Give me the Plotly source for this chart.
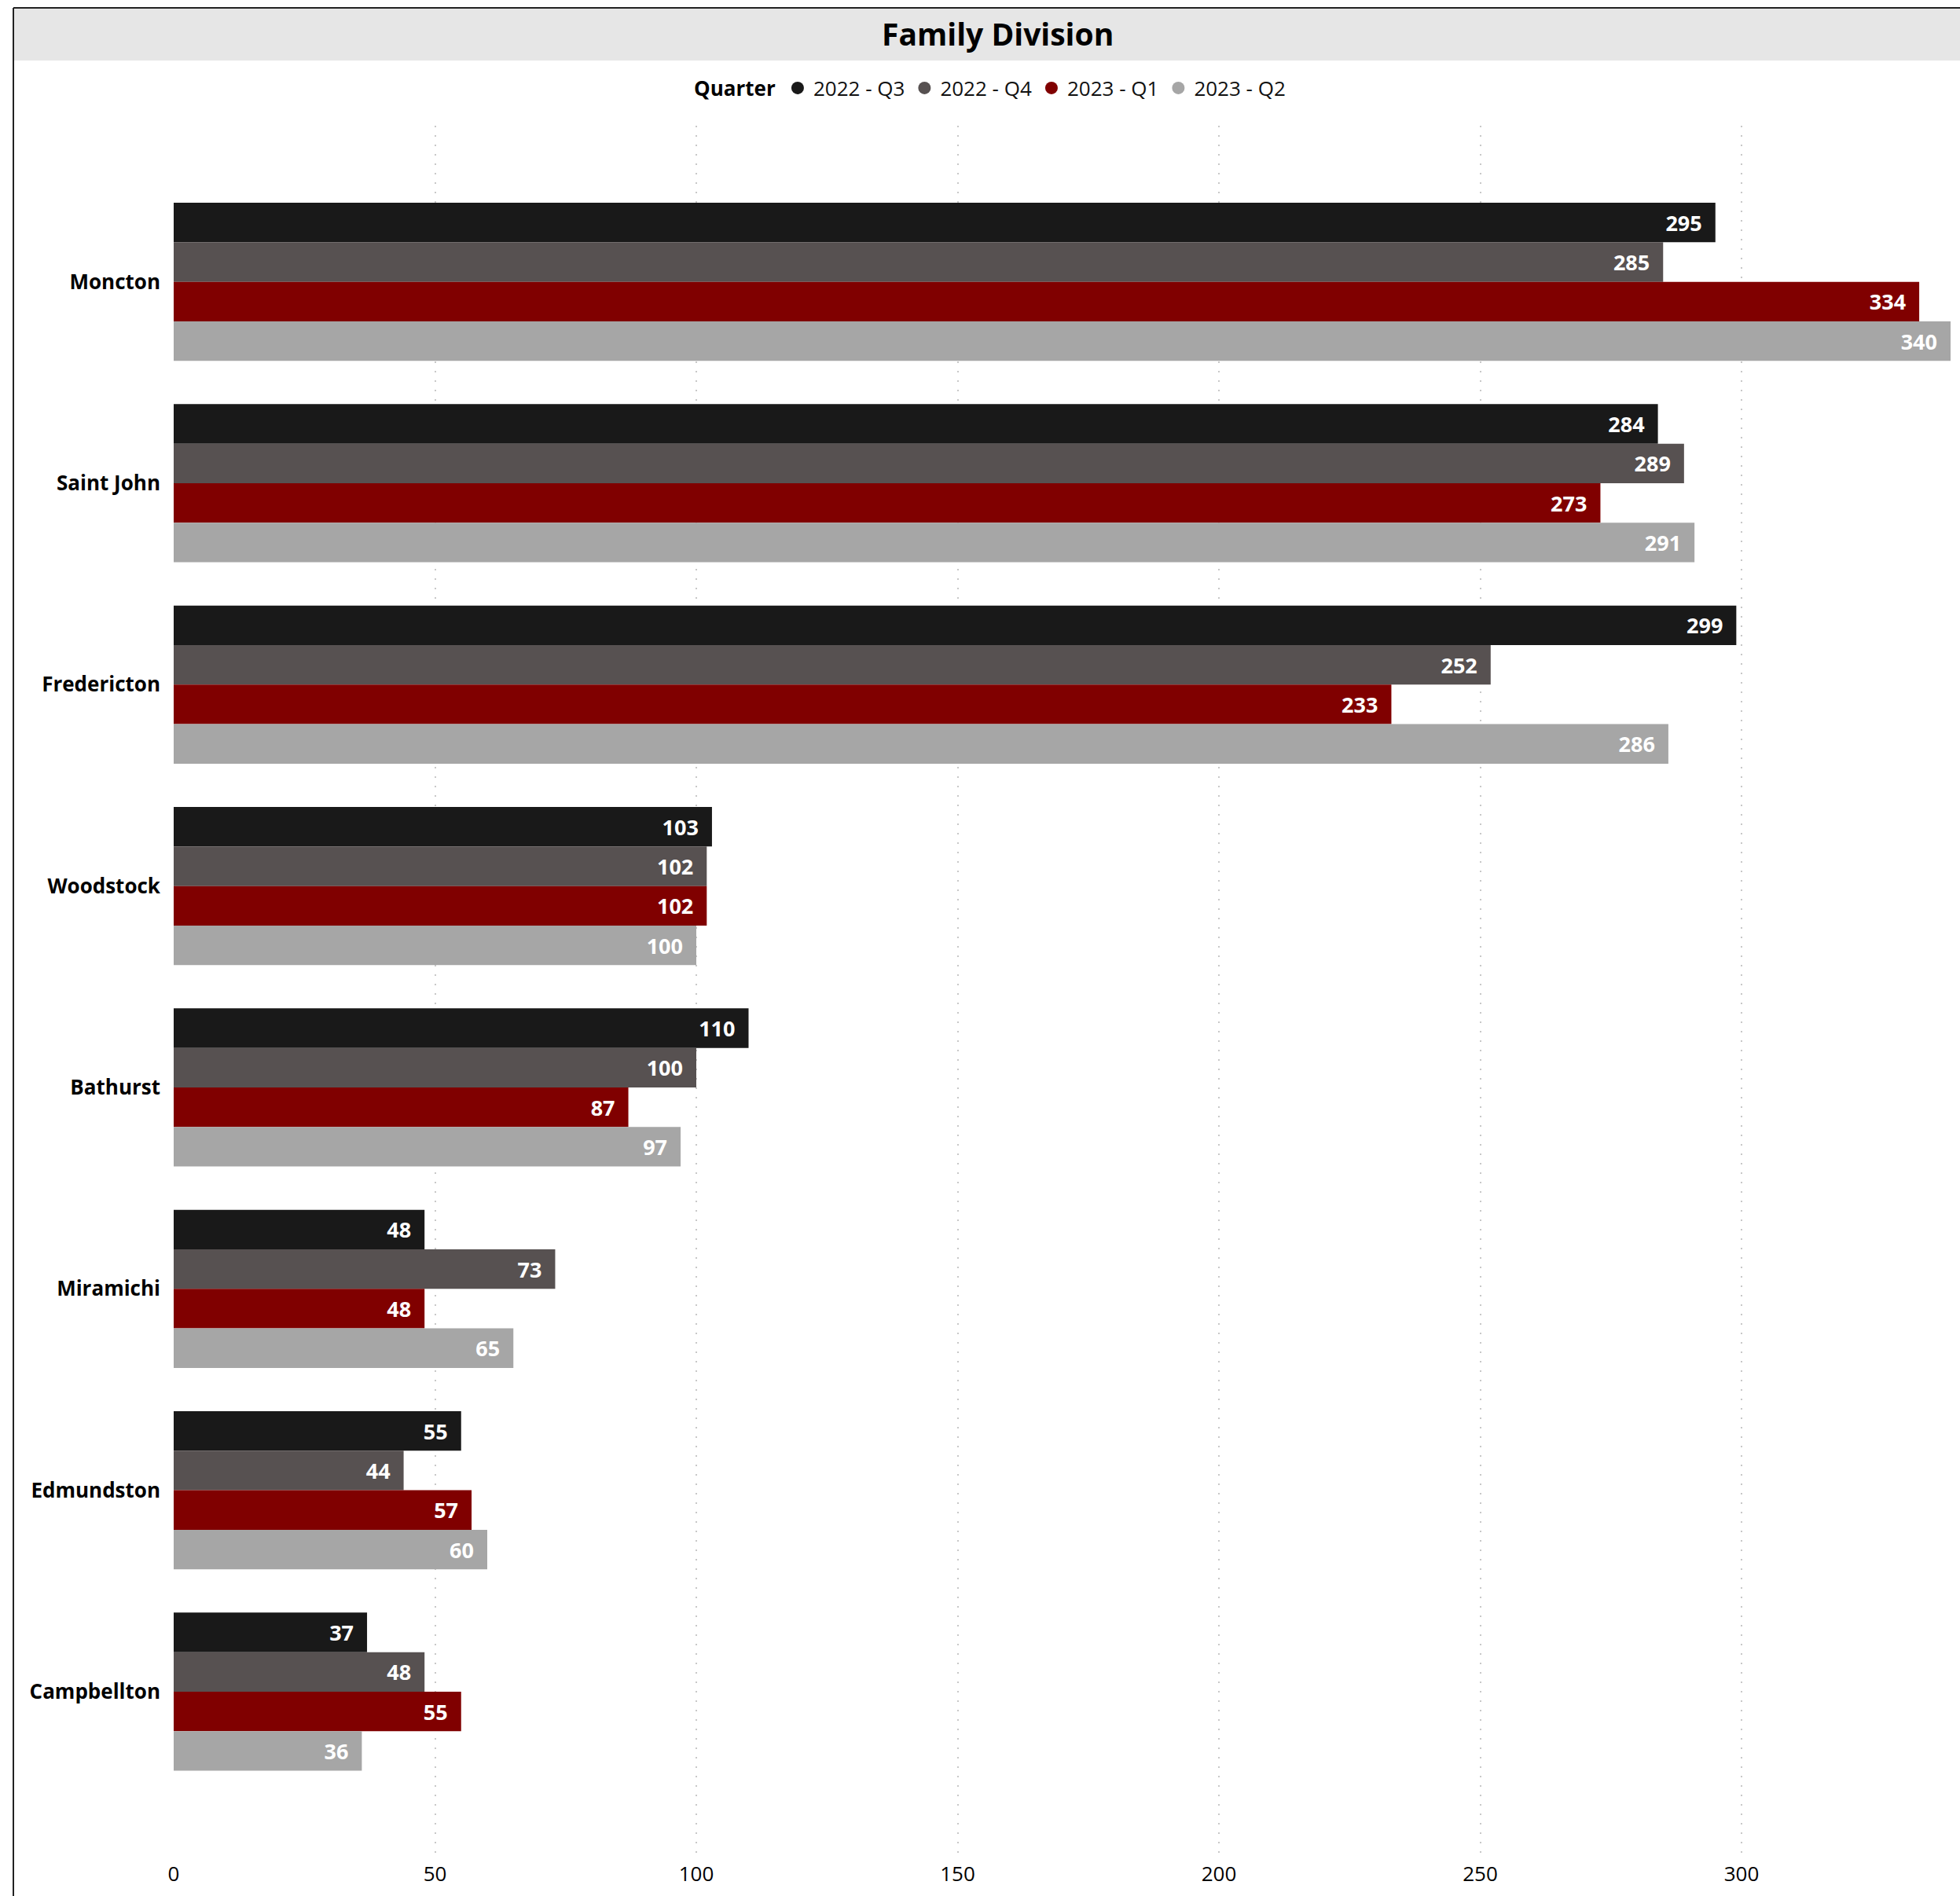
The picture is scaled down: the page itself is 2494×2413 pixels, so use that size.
import plotly.graph_objects as go

categories = ["Moncton", "Saint John", "Fredericton", "Woodstock", "Bathurst",
              "Miramichi", "Edmundston", "Campbellton"]
q2022_q3 = [295, 284, 299, 103, 110, 48, 55, 37]
q2022_q4 = [285, 289, 252, 102, 100, 73, 44, 48]
q2023_q1 = [334, 273, 233, 102, 87, 48, 57, 55]
q2023_q2 = [340, 291, 286, 100, 97, 65, 60, 36]
series_names = ["2022 - Q3", "2022 - Q4", "2023 - Q1", "2023 - Q2"]
x_ticks = [0, 50, 100, 150, 200, 250, 300]

colors = ["#191919", "#575151", "#800000", "#a6a6a6"]
series_values = [q2022_q3, q2022_q4, q2023_q1, q2023_q2]

FONT = "Open Sans"
W, H = 2494, 2413
L, R_EDGE, T, B_EDGE = 221, 2484, 160, 2358
PW, PH = R_EDGE - L, B_EDGE - T

def px_x(p):
    return (p - L) / PW

def px_y(p):
    return (B_EDGE - p) / PH

fig = go.Figure()
for name, vals, col in zip(series_names, series_values, colors):
    fig.add_trace(go.Bar(
        y=categories, x=vals, orientation="h", name=name,
        marker=dict(color=col, line=dict(width=0)),
        text=[f"{v}\u00a0\u00a0" for v in vals],
        textposition="inside", insidetextanchor="end",
        textfont=dict(family=FONT, size=27, color="white", weight="bold"),
        constraintext="none", textangle=0,
        showlegend=False, hoverinfo="skip",
    ))
# legend entries with circular markers
for name, col in zip(series_names, colors):
    fig.add_trace(go.Scatter(
        x=[None], y=[None], mode="markers", name=name,
        marker=dict(symbol="circle", size=19, color=col),
        showlegend=True,
    ))

fig.update_layout(
    width=W, height=H,
    margin=dict(l=L, r=W - R_EDGE, t=T, b=H - B_EDGE, autoexpand=False),
    paper_bgcolor="white", plot_bgcolor="white",
    barmode="group", bargap=0.215, bargroupgap=0,
    font=dict(family=FONT, color="black"),
    showlegend=True,
    legend=dict(
        orientation="h", x=px_x(1261), xanchor="center",
        y=px_y(112), yanchor="middle",
        title=dict(text="<b>Quarter</b>", font=dict(size=26, family=FONT, color="black")),
        font=dict(size=26, family=FONT, color="#111111"),
        itemwidth=30, tracegroupgap=0,
        bgcolor="rgba(0,0,0,0)",
    ),
    xaxis=dict(
        range=[0, 340.3], tickvals=x_ticks, ticktext=[str(t) for t in x_ticks],
        showgrid=True, gridcolor="#c8c8c8", griddash="2px,10px", gridwidth=2,
        zeroline=False, showline=False, ticks="",
        tickfont=dict(size=26, family=FONT, color="black"),
        ticklabelstandoff=9,
    ),
    yaxis=dict(
        type="category", categoryorder="array", categoryarray=categories,
        range=[7.8, -0.775], showgrid=False, zeroline=False, showline=False,
        ticks="", tickfont=dict(size=26, family=FONT, color="black", weight="bold"),
        ticklabelstandoff=16,
    ),
    shapes=[
        dict(type="rect", xref="paper", yref="paper",
             x0=px_x(17), x1=px_x(W + 5), y0=px_y(77), y1=px_y(10),
             fillcolor="#e6e6e6", line=dict(width=0), layer="below"),
        dict(type="line", xref="paper", yref="paper",
             x0=px_x(17), x1=px_x(W + 5), y0=px_y(10), y1=px_y(10),
             line=dict(color="#222222", width=2)),
        dict(type="line", xref="paper", yref="paper",
             x0=px_x(17), x1=px_x(17), y0=px_y(10), y1=px_y(H + 5),
             line=dict(color="#222222", width=2)),
    ],
    annotations=[
        dict(text="<b>Family Division</b>", xref="paper", yref="paper",
             x=px_x(1269), y=px_y(43), xanchor="center", yanchor="middle",
             showarrow=False, font=dict(size=39, family=FONT, color="black")),
    ],
)

fig.write_html("out.html",
               config={"displayModeBar": False},
               post_script="document.body.style.margin='0';document.body.style.overflow='hidden';")
